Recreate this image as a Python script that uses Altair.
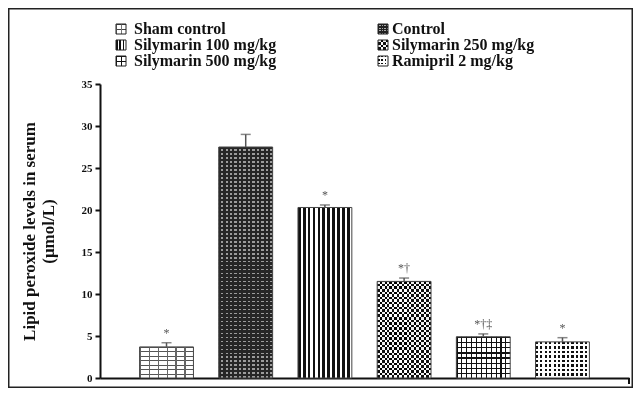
import altair as alt
import pandas as pd

# ---------------- data ----------------
groups = ["Sham control", "Control", "Silymarin 100 mg/kg",
          "Silymarin 250 mg/kg", "Silymarin 500 mg/kg", "Ramipril 2 mg/kg"]
means = [3.7, 27.5, 20.3, 11.5, 4.9, 4.3]
sems = [0.5, 1.5, 0.3, 0.4, 0.35, 0.5]
signif = ["*", "", "*", "*†", "*†‡", "*"]
y_ticks = [0, 5, 10, 15, 20, 25, 30, 35]

df = pd.DataFrame({"group": groups, "mean": means, "sem": sems, "sig": signif})
df["upper"] = df["mean"] + df["sem"]

# ---------------- layout / style ----------------
W, H = 529, 294
PXU = H / 35.0
FONT = "Liberation Serif"
CLEAR = "rgba(0,0,0,0)"


def stripes(n, frac, on, off, axis):
    stops = []
    for i in range(n):
        a = i / n
        b = (i + frac) / n
        c = (i + 1) / n
        stops += [{"offset": round(a, 5), "color": on},
                  {"offset": round(b, 5), "color": on},
                  {"offset": round(b, 5), "color": off},
                  {"offset": round(c, 5), "color": off}]
    return {"gradient": "linear", "x1": 0, "y1": 0,
            "x2": 1 if axis == "x" else 0, "y2": 1 if axis == "y" else 0,
            "stops": stops}


def nrows(value, period):
    return max(1, int(round(value * PXU / period)))


def bar_patterns(g, v):
    if g == "Sham control":
        return [("white", None),
                (stripes(nrows(v, 4.7), 0.24, "#555", CLEAR, "y"), None),
                (stripes(6, 0.12, "#666", CLEAR, "x"), None)]
    if g == "Control":
        return [(stripes(nrows(v, 4.0), 0.6, "#262626", "#9c9c9c", "y"), None),
                (stripes(12, 0.5, "#262626", CLEAR, "x"), None)]
    if g == "Silymarin 100 mg/kg":
        return [(stripes(11, 0.55, "#111", "white", "x"), None)]
    if g == "Silymarin 250 mg/kg":
        return [(stripes(11, 0.5, "#111", "white", "x"), None),
                (stripes(nrows(v, 5.0), 0.5, "white", CLEAR, "y"), "difference")]
    if g == "Silymarin 500 mg/kg":
        return [("white", None),
                (stripes(11, 0.24, "#111", CLEAR, "x"), None),
                (stripes(nrows(v, 5.0), 0.24, "#111", CLEAR, "y"), None)]
    return [(stripes(12, 0.48, "#111", "white", "x"), None),
            (stripes(nrows(v, 4.5), 0.48, "#111", "white", "y"), "lighten")]


def icon_patterns(g):
    if g == "Sham control":
        return [("white", None), (stripes(2, 0.15, "#444", CLEAR, "y"), None),
                (stripes(2, 0.15, "#777", CLEAR, "x"), None)]
    if g == "Control":
        return [(stripes(4, 0.5, "#222", "#aaa", "y"), None),
                (stripes(4, 0.5, "#222", CLEAR, "x"), None)]
    if g == "Silymarin 100 mg/kg":
        return [(stripes(3, 0.5, "#111", "white", "x"), None)]
    if g == "Silymarin 250 mg/kg":
        return [(stripes(2, 0.5, "#111", "white", "x"), None),
                (stripes(2, 0.5, "white", CLEAR, "y"), "difference")]
    if g == "Silymarin 500 mg/kg":
        return [("white", None), (stripes(2, 0.15, "#111", CLEAR, "x"), None),
                (stripes(2, 0.15, "#111", CLEAR, "y"), None)]
    return [(stripes(3, 0.45, "#111", "white", "x"), None),
            (stripes(3, 0.45, "#111", "white", "y"), "lighten")]


X = alt.X("group:N", sort=groups,
          scale=alt.Scale(domain=groups, paddingInner=0.32, paddingOuter=0.5),
          axis=alt.Axis(labels=False, ticks=False, title=None,
                        domainWidth=2, domainColor="#111"))
Y = alt.Y("mean:Q", scale=alt.Scale(domain=[0, 35], nice=False),
          axis=alt.Axis(values=y_ticks, grid=False, domainWidth=2, domainColor="#111",
                        tickColor="#111", tickWidth=2, tickSize=5,
                        labelFont=FONT, labelFontWeight="bold", labelFontSize=11,
                        labelColor="#111", labelPadding=3,
                        title=["Lipid peroxide levels in serum", "(μmol/L)"],
                        titleFont=FONT, titleFontSize=17, titleFontWeight="bold",
                        titleColor="#111", titlePadding=24))

base = alt.Chart(df)
layers = []

# bars with patterns
for g, v in zip(groups, means):
    for fill, blend in bar_patterns(g, v):
        kw = {"fill": fill, "strokeWidth": 0}
        if blend:
            kw["blend"] = blend
        layers.append(base.transform_filter(alt.datum.group == g)
                      .mark_bar(**kw).encode(x=X, y=Y))

# bar outlines
layers.append(base.mark_bar(fillOpacity=0, stroke="#444", strokeWidth=1).encode(x=X, y=Y))

# error bars
layers.append(base.mark_rule(color="#555", strokeWidth=1.5).encode(
    x=X, y=alt.Y("mean:Q"), y2="upper:Q"))
layers.append(base.mark_tick(color="#555", thickness=1.5, size=10).encode(
    x=X, y=alt.Y("upper:Q")))

# significance markers
layers.append(base.mark_text(font=FONT, fontSize=12, color="#555",
                             baseline="alphabetic", dy=-6).encode(
    x=X, y=alt.Y("upper:Q"), text="sig:N"))

# x-axis right end tick
layers.append(base.transform_filter(alt.datum.group == groups[0]).mark_rule(
    color="#111", strokeWidth=2).encode(
    x=alt.value(W), y=alt.value(H), y2=alt.value(H + 6)))

# legend (two columns, three rows)
col_icon = [16, 278]
col_text = [34, 292]
row_y = [-55, -39, -23]
for i, g in enumerate(groups):
    col, row = i % 2, i // 2
    ix, iy = col_icon[col], row_y[row]
    one = base.transform_filter(alt.datum.group == g)
    for fill, blend in icon_patterns(g):
        kw = {"fill": fill, "strokeWidth": 0}
        if blend:
            kw["blend"] = blend
        layers.append(one.mark_rect(**kw).encode(
            x=alt.value(ix), x2=alt.value(ix + 10),
            y=alt.value(iy - 5), y2=alt.value(iy + 5)))
    layers.append(one.mark_rect(fillOpacity=0, stroke="#222", strokeWidth=1).encode(
        x=alt.value(ix), x2=alt.value(ix + 10),
        y=alt.value(iy - 5), y2=alt.value(iy + 5)))
    layers.append(one.mark_text(align="left", baseline="middle", font=FONT,
                                fontWeight="bold", fontSize=16, color="#111").encode(
        x=alt.value(col_text[col]), y=alt.value(iy), text="group:N"))

# outer frame
layers.append(base.transform_filter(alt.datum.group == groups[0]).mark_rect(
    fillOpacity=0, stroke="#222", strokeWidth=1.5).encode(
    x=alt.value(-91.25), x2=alt.value(532.25),
    y=alt.value(-75.25), y2=alt.value(303.25)))

chart = alt.layer(*layers).properties(
    width=W, height=H,
    autosize=alt.AutoSizeParams(type="none"),
    padding={"left": 92, "top": 76, "right": 4, "bottom": 10},
    background="white",
).configure_view(strokeWidth=0)

chart.save("out.html", embed_options={"renderer": "svg", "actions": False})
